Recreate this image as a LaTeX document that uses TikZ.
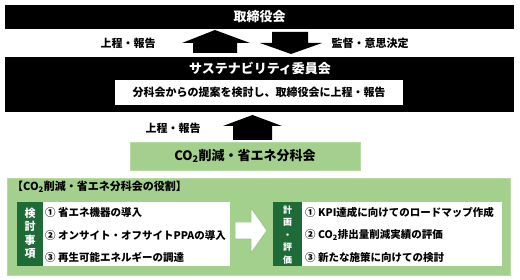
\documentclass[tikz,border=0pt]{standalone}
\usepackage{fontspec}
\setmainfont{Noto Sans CJK JP}
\definecolor{lgreen}{HTML}{A3D08C}
\definecolor{lgreenedge}{HTML}{B8DBA6}
\definecolor{dgreen}{HTML}{1E6B37}
\definecolor{arrowedge}{HTML}{9CC68A}
\newcommand\cotwo{CO\textsubscript{2}}
\begin{document}
\begin{tikzpicture}[x=1pt,y=-1pt,
  bar/.style={fill=black,inner sep=0pt},
  btext/.style={text=white,font=\fontsize{13}{15}\selectfont\bfseries,inner sep=0pt},
  lbl/.style={font=\fontsize{11}{13}\selectfont\bfseries,inner sep=0pt},
  item/.style={font=\fontsize{10.5}{12}\selectfont\bfseries,inner sep=0pt,anchor=west},
  gbox/.style={fill=lgreen,draw=lgreenedge,line width=0.8pt,inner sep=0pt},
  wbox/.style={fill=white,inner sep=0pt},
  dcol/.style={fill=dgreen,inner sep=0pt},
  blockarrow/.style={fill=black}]
\useasboundingbox (0,0) rectangle (520,280);
% top bar
\node[bar,minimum width=509pt,minimum height=24pt] (board) at (259.5,17) {};
\node[btext] (boardt) at (board.center) {取締役会};
% arrows between bars
\fill[blockarrow] (215,30) -- (250,43) -- (237,43) -- (237,53) -- (193,53) -- (193,43) -- (182,43) -- cycle;
\fill[blockarrow] (272,32) -- (308,32) -- (308,43) -- (322,43) -- (291,54) -- (260,43) -- (272,43) -- cycle;
\node[lbl] (up1) at (128,43) {上程・報告};
\node[lbl] (down1) at (370,43) {監督・意思決定};
% committee bar
\node[bar,minimum width=509pt,minimum height=55pt] (comm) at (259.5,84.5) {};
\node[btext] (commt) at (260,68) {サステナビリティ委員会};
\node[wbox,minimum width=288pt,minimum height=25pt] (commbox) at (259,92.5) {};
\node[lbl] (commboxt) at (commbox.center) {分科会からの提案を検討し、取締役会に上程・報告};
% arrow from subcommittee
\fill[blockarrow] (252.5,115) -- (282,126) -- (272,126) -- (272,140) -- (233,140) -- (233,126) -- (223,126) -- cycle;
\node[lbl] (up2) at (173,128) {上程・報告};
% subcommittee box
\node[gbox,minimum width=230pt,minimum height=28pt] (sub) at (245,156) {};
\node[font=\fontsize{13}{15}\selectfont\bfseries,inner sep=0pt] (subt) at (sub.center) {\cotwo 削減・省エネ分科会};
% role panel
\node[gbox,minimum width=503pt,minimum height=97pt] (role) at (258.5,226.5) {};
\node[lbl,anchor=west] (roletitle) at (12,187) {【\cotwo 削減・省エネ分科会の役割】};
% left box
\node[wbox,minimum width=213pt,minimum height=64pt] (lbox) at (123.5,234) {};
\node[dcol,minimum width=26pt,minimum height=64pt] (lcol) at (30,234) {};
\node[text=white,align=center,inner sep=0pt,font=\fontsize{11}{13.5}\selectfont\bfseries] (lcolt) at (30,233.5) {検\\討\\事\\項};
\node[item] (l1) at (45,213) {① 省エネ機器の導入};
\node[item] (l2) at (45,235) {② オンサイト・オフサイトPPAの導入};
\node[item] (l3) at (45,257) {③ 再生可能エネルギーの調達};
% hollow arrow
\draw[fill=white,draw=arrowedge,line width=0.8pt] (235,222) -- (251,222) -- (251,208) -- (267,230.5) -- (251,253) -- (251,239) -- (235,239) -- cycle;
% right box
\node[wbox,minimum width=229pt,minimum height=64pt] (rbox) at (387.5,234) {};
\node[dcol,minimum width=29pt,minimum height=64pt] (rcol) at (287.5,234) {};
\node[text=white,align=center,inner sep=0pt,font=\fontsize{9}{12.5}\selectfont\bfseries] (rcolt) at (287.5,235) {計\\画\\・\\評\\価};
\node[item] (r1) at (305,213) {① KPI達成に向けてのロードマップ作成};
\node[item] (r2) at (305,235) {② \cotwo 排出量削減実績の評価};
\node[item] (r3) at (305,257) {③ 新たな施策に向けての検討};
\end{tikzpicture}
\end{document}
